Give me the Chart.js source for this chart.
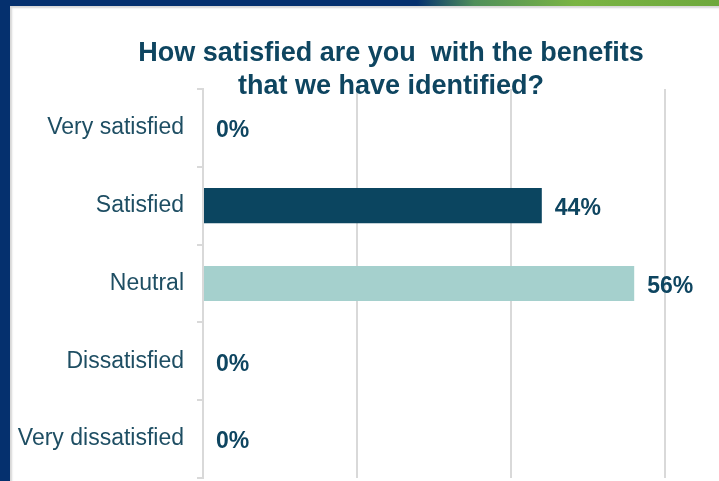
<!DOCTYPE html>
<html>
<head>
<meta charset="utf-8">
<script src="https://cdn.jsdelivr.net/npm/chart.js@4"></script>
<style>
    body { margin: 0; width: 719px; height: 481px; background: #05306e; position: relative; overflow: hidden; }
    #strip { position: absolute; left: 0; top: 0; width: 719px; height: 6px;
        background: linear-gradient(to right, #05306e 0%, #05306e 58%, #4f8f5a 66%, #7ab443 80%, #6ea83c 100%); }
    #panel { position: absolute; left: 10px; top: 6px; width: 709px; height: 475px; background: #fff;
        box-shadow: inset 2px 2px 2px #d6d6d6; }
</style>
</head>
<body>
<div id="strip"></div>
<div id="panel"><canvas id="survey-chart" width="709" height="475"></canvas></div>
<script>
const categories = ["Very satisfied", "Satisfied", "Neutral", "Dissatisfied", "Very dissatisfied"]
const percentages = [0, 44, 56, 0, 0]
const barColors = ["#0b4560", "#0b4560", "#a5d0cd", "#0b4560", "#0b4560"]
const xTicks = [0, 20, 40, 60]

const titleLines = ["How satisfied are you  with the benefits", "that we have identified?"]
const textColor = "#0e4560"
const fontFamily = "'Liberation Sans', Arial, sans-serif"

// puts the "44%" style labels just past the end of each bar
const valueLabels = {
    id: "valueLabels",
    afterDatasetsDraw(chart) {
        const ctx = chart.ctx
        const meta = chart.getDatasetMeta(0)
        ctx.save()
        ctx.font = "bold 23px " + fontFamily
        ctx.fillStyle = textColor
        ctx.textAlign = "left"
        ctx.textBaseline = "middle"
        meta.data.forEach((bar, i) => {
            ctx.fillText(percentages[i] + "%", bar.x + 13, bar.y + 3)
        })
        ctx.restore()
    }
}

// the slide's title sits a bit left of the canvas centre
const shiftTitle = {
    id: "shiftTitle",
    afterLayout(chart) {
        if (chart.titleBlock) {
            chart.titleBlock.left = 53
            chart.titleBlock.right = chart.width
        }
    }
}

const canvasElement = document.getElementById("survey-chart")
new Chart(canvasElement.getContext("2d"), {
    type: "bar",
    data: {
        labels: categories,
        datasets: [{
            data: percentages,
            backgroundColor: barColors,
            borderWidth: 0,
            barPercentage: 0.45,
            categoryPercentage: 1
        }]
    },
    options: {
        indexAxis: "y",
        responsive: false,
        animation: false,
        layout: { padding: { left: 0, right: 54, top: 0, bottom: 3 } },
        plugins: {
            legend: { display: false },
            tooltip: { enabled: false },
            title: {
                display: true,
                text: titleLines,
                color: textColor,
                font: { family: fontFamily, size: 27, weight: "bold", lineHeight: 1.22 },
                padding: { top: 31, bottom: -14 }
            }
        },
        scales: {
            x: {
                min: xTicks[0],
                max: xTicks[xTicks.length - 1],
                afterBuildTicks: (scale) => { scale.ticks = xTicks.map(v => ({ value: v })) },
                afterFit: (scale) => { scale.height = 0 },
                ticks: { display: false },
                border: { display: false },
                grid: { color: "#d9d9d9", lineWidth: 2, drawTicks: false }
            },
            y: {
                afterFit: (scale) => {
                    scale.width = 193
                    scale.paddingTop = 0
                    scale.paddingBottom = 0
                },
                ticks: { color: "#1e4e63", padding: 13, font: { family: fontFamily, size: 23 } },
                border: { display: true, color: "#d9d9d9", width: 2 },
                grid: { drawOnChartArea: false, drawTicks: true, tickLength: 6, color: "#d9d9d9", lineWidth: 2 }
            }
        }
    },
    plugins: [valueLabels, shiftTitle]
})
</script>
</body>
</html>
